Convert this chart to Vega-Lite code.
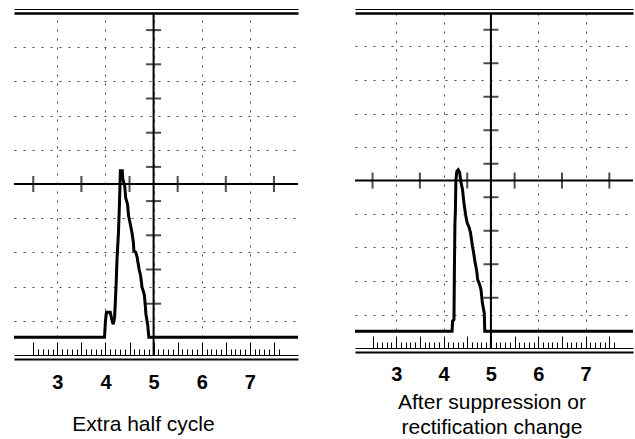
{
  "$schema": "https://vega.github.io/schema/vega-lite/v6.json",
  "background": "white",
  "padding": {"left": 8, "top": 4, "right": 0, "bottom": 0},
  "spacing": 45,
  "config": {"view": {"stroke": null}, "font": "Liberation Sans"},
  "datasets": {
    "extra": [
      {"t": 2.1, "v": 0.52}, {"t": 3.98, "v": 0.52}, {"t": 4.0, "v": 1.0}, {"t": 4.02, "v": 1.25},
      {"t": 4.1, "v": 1.25}, {"t": 4.13, "v": 1.05}, {"t": 4.16, "v": 0.9}, {"t": 4.19, "v": 1.1},
      {"t": 4.22, "v": 2.0}, {"t": 4.24, "v": 2.8}, {"t": 4.27, "v": 3.58}, {"t": 4.29, "v": 4.37},
      {"t": 4.31, "v": 5.39}, {"t": 4.35, "v": 5.39}, {"t": 4.36, "v": 5.15}, {"t": 4.4, "v": 4.95},
      {"t": 4.42, "v": 4.6}, {"t": 4.46, "v": 4.4}, {"t": 4.48, "v": 4.07}, {"t": 4.52, "v": 3.8},
      {"t": 4.55, "v": 3.58}, {"t": 4.58, "v": 3.3}, {"t": 4.59, "v": 3.05}, {"t": 4.63, "v": 3.0},
      {"t": 4.66, "v": 2.85}, {"t": 4.67, "v": 2.75}, {"t": 4.7, "v": 2.5}, {"t": 4.73, "v": 2.32},
      {"t": 4.76, "v": 1.98}, {"t": 4.79, "v": 1.85}, {"t": 4.81, "v": 1.73}, {"t": 4.83, "v": 1.4},
      {"t": 4.84, "v": 1.2}, {"t": 4.88, "v": 0.86}, {"t": 4.9, "v": 0.52}, {"t": 8.0, "v": 0.52}
    ],
    "after": [
      {"t": 2.13, "v": 0.5}, {"t": 4.18, "v": 0.5}, {"t": 4.19, "v": 0.8}, {"t": 4.22, "v": 0.85},
      {"t": 4.23, "v": 2.5}, {"t": 4.24, "v": 3.7}, {"t": 4.25, "v": 4.1}, {"t": 4.26, "v": 5.0},
      {"t": 4.28, "v": 5.27}, {"t": 4.31, "v": 5.32}, {"t": 4.34, "v": 5.25}, {"t": 4.36, "v": 5.0},
      {"t": 4.4, "v": 4.73}, {"t": 4.43, "v": 4.33}, {"t": 4.47, "v": 3.94}, {"t": 4.5, "v": 3.73},
      {"t": 4.54, "v": 3.6}, {"t": 4.57, "v": 3.43}, {"t": 4.61, "v": 3.04}, {"t": 4.64, "v": 2.8},
      {"t": 4.66, "v": 2.6}, {"t": 4.7, "v": 2.3}, {"t": 4.72, "v": 2.04}, {"t": 4.76, "v": 1.9},
      {"t": 4.79, "v": 1.74}, {"t": 4.82, "v": 1.34}, {"t": 4.86, "v": 1.04}, {"t": 4.87, "v": 0.5},
      {"t": 8.0, "v": 0.5}
    ],
    "center": [{"c": 5}],
    "hticks": [
      {"gx": 2.5, "gy": 5}, {"gx": 3.5, "gy": 5}, {"gx": 4.5, "gy": 5},
      {"gx": 5.5, "gy": 5}, {"gx": 6.5, "gy": 5}, {"gx": 7.5, "gy": 5}
    ],
    "vticks": [
      {"gx": 5, "gy": 1.5}, {"gx": 5, "gy": 2.5}, {"gx": 5, "gy": 3.5}, {"gx": 5, "gy": 4.5},
      {"gx": 5, "gy": 5.5}, {"gx": 5, "gy": 6.5}, {"gx": 5, "gy": 7.5}, {"gx": 5, "gy": 8.5},
      {"gx": 5, "gy": 9.5}
    ]
  },
  "hconcat": [
    {
      "width": 284,
      "height": 342,
      "title": {"text": " ", "fontSize": 1, "offset": 4},
      "resolve": {"axis": {"x": "independent", "y": "independent"}},
      "layer": [
        {
          "data": {"name": "center"},
          "mark": {"type": "rule", "color": "black", "strokeWidth": 2},
          "encoding": {
            "y": {"field": "c", "type": "quantitative", "scale": {"domain": [0, 10], "nice": false},
              "axis": {"orient": "left", "grid": true, "values": [1, 2, 3, 4, 6, 7, 8, 9], "gridColor": "#444", "gridDash": [2, 7], "gridWidth": 1, "labels": false, "ticks": false, "domain": false, "title": null}}
          }
        },
        {
          "data": {"name": "center"},
          "mark": {"type": "rule", "color": "black", "strokeWidth": 2},
          "encoding": {
            "x": {"field": "c", "type": "quantitative", "scale": {"domain": [2.1, 8.0], "nice": false, "zero": false},
              "axis": {"orient": "bottom", "offset": 4, "domain": true, "domainColor": "black", "domainWidth": 2, "ticks": false, "tickSize": 0, "values": [3, 4, 5, 6, 7], "labelFontSize": 20, "labelFontWeight": "bold", "labelFont": "Liberation Sans", "labelColor": "black", "labelPadding": 13, "grid": true, "gridColor": "#444", "gridDash": [2, 7], "gridWidth": 1, "title": "Extra half cycle", "titleFont": "Liberation Sans", "titleFontSize": 21, "titleFontWeight": "normal", "titleColor": "black", "titleX": 129, "titleY": 54, "titleBaseline": "top", "titleAlign": "center"}}
          }
        },
        {
          "data": {"name": "hticks"},
          "mark": {"type": "tick", "orient": "vertical", "color": "black", "thickness": 2, "size": 16},
          "encoding": {
            "x": {"field": "gx", "type": "quantitative", "scale": {"domain": [2.1, 8.0], "nice": false, "zero": false},
              "axis": {"orient": "bottom", "domain": true, "domainColor": "black", "domainWidth": 1, "labels": false, "grid": false, "ticks": true, "tickColor": "black", "tickWidth": 1,
                "tickSize": {"condition": {"test": "abs(datum.value*2-round(datum.value*2))<0.01", "value": -13}, "value": -6},
                "values": [2.5, 2.6, 2.7, 2.8, 2.9, 3.0, 3.1, 3.2, 3.3, 3.4, 3.5, 3.6, 3.7, 3.8, 3.9, 4.0, 4.1, 4.2, 4.3, 4.4, 4.5, 4.6, 4.7, 4.8, 4.9, 5.0, 5.1, 5.2, 5.3, 5.4, 5.5, 5.6, 5.7, 5.8, 5.9, 6.0, 6.1, 6.2, 6.3, 6.4, 6.5, 6.6, 6.7, 6.8, 6.9, 7.0, 7.1, 7.2, 7.3, 7.4, 7.5, 7.6],
                "title": null}},
            "y": {"field": "gy", "type": "quantitative", "scale": {"domain": [0, 10], "nice": false}, "axis": null}
          }
        },
        {
          "data": {"name": "vticks"},
          "mark": {"type": "tick", "orient": "horizontal", "color": "black", "thickness": 2, "size": 15},
          "encoding": {
            "x": {"field": "gx", "type": "quantitative", "scale": {"domain": [2.1, 8.0], "nice": false, "zero": false},
              "axis": {"orient": "top", "offset": 4, "domain": true, "domainColor": "black", "domainWidth": 1.2, "labels": false, "ticks": false, "grid": false, "title": null}},
            "y": {"field": "gy", "type": "quantitative", "scale": {"domain": [0, 10], "nice": false}, "axis": null}
          }
        },
        {
          "data": {"name": "extra"},
          "mark": {"type": "line", "color": "black", "strokeWidth": 3},
          "encoding": {
            "x": {"field": "t", "type": "quantitative", "scale": {"domain": [2.1, 8.0], "nice": false, "zero": false},
              "axis": {"orient": "top", "domain": true, "domainColor": "black", "domainWidth": 2.5, "ticks": false, "labels": false, "grid": false, "title": null}},
            "y": {"field": "v", "type": "quantitative", "scale": {"domain": [0, 10], "nice": false}, "axis": null}
          }
        }
      ]
    },
    {
      "width": 278,
      "height": 335,
      "resolve": {"axis": {"x": "independent", "y": "independent"}},
      "layer": [
        {
          "data": {"name": "center"},
          "mark": {"type": "rule", "color": "black", "strokeWidth": 2},
          "encoding": {
            "y": {"field": "c", "type": "quantitative", "scale": {"domain": [0, 10], "nice": false},
              "axis": {"orient": "left", "grid": true, "values": [1, 2, 3, 4, 6, 7, 8, 9], "gridColor": "#444", "gridDash": [2, 7], "gridWidth": 1, "labels": false, "ticks": false, "domain": false, "title": null}}
          }
        },
        {
          "data": {"name": "center"},
          "mark": {"type": "rule", "color": "black", "strokeWidth": 2},
          "encoding": {
            "x": {"field": "c", "type": "quantitative", "scale": {"domain": [2.13, 8.0], "nice": false, "zero": false},
              "axis": {"orient": "bottom", "offset": 4, "domain": true, "domainColor": "black", "domainWidth": 2, "ticks": false, "tickSize": 0, "values": [3, 4, 5, 6, 7], "labelFontSize": 20, "labelFontWeight": "bold", "labelFont": "Liberation Sans", "labelColor": "black", "labelPadding": 12, "grid": true, "gridColor": "#444", "gridDash": [2, 7], "gridWidth": 1, "title": ["After suppression or", "rectification change"], "titleFont": "Liberation Sans", "titleFontSize": 21, "titleFontWeight": "normal", "titleColor": "black", "titleLineHeight": 25, "titleX": 136.5, "titleY": 39.5, "titleBaseline": "top", "titleAlign": "center"}}
          }
        },
        {
          "data": {"name": "hticks"},
          "mark": {"type": "tick", "orient": "vertical", "color": "black", "thickness": 2, "size": 16},
          "encoding": {
            "x": {"field": "gx", "type": "quantitative", "scale": {"domain": [2.13, 8.0], "nice": false, "zero": false},
              "axis": {"orient": "bottom", "domain": true, "domainColor": "black", "domainWidth": 1, "labels": false, "grid": false, "ticks": true, "tickColor": "black", "tickWidth": 1,
                "tickSize": {"condition": {"test": "abs(datum.value*2-round(datum.value*2))<0.01", "value": -12}, "value": -6},
                "values": [2.5, 2.6, 2.7, 2.8, 2.9, 3.0, 3.1, 3.2, 3.3, 3.4, 3.5, 3.6, 3.7, 3.8, 3.9, 4.0, 4.1, 4.2, 4.3, 4.4, 4.5, 4.6, 4.7, 4.8, 4.9, 5.0, 5.1, 5.2, 5.3, 5.4, 5.5, 5.6, 5.7, 5.8, 5.9, 6.0, 6.1, 6.2, 6.3, 6.4, 6.5, 6.6, 6.7, 6.8, 6.9, 7.0, 7.1, 7.2, 7.3, 7.4, 7.5, 7.6],
                "title": null}},
            "y": {"field": "gy", "type": "quantitative", "scale": {"domain": [0, 10], "nice": false}, "axis": null}
          }
        },
        {
          "data": {"name": "vticks"},
          "mark": {"type": "tick", "orient": "horizontal", "color": "black", "thickness": 2, "size": 15},
          "encoding": {
            "x": {"field": "gx", "type": "quantitative", "scale": {"domain": [2.13, 8.0], "nice": false, "zero": false},
              "axis": {"orient": "top", "offset": 4, "domain": true, "domainColor": "black", "domainWidth": 1.2, "labels": false, "ticks": false, "grid": false, "title": null}},
            "y": {"field": "gy", "type": "quantitative", "scale": {"domain": [0, 10], "nice": false}, "axis": null}
          }
        },
        {
          "data": {"name": "after"},
          "mark": {"type": "line", "color": "black", "strokeWidth": 3},
          "encoding": {
            "x": {"field": "t", "type": "quantitative", "scale": {"domain": [2.13, 8.0], "nice": false, "zero": false},
              "axis": {"orient": "top", "domain": true, "domainColor": "black", "domainWidth": 2.5, "ticks": false, "labels": false, "grid": false, "title": null}},
            "y": {"field": "v", "type": "quantitative", "scale": {"domain": [0, 10], "nice": false}, "axis": null}
          }
        }
      ]
    }
  ]
}
